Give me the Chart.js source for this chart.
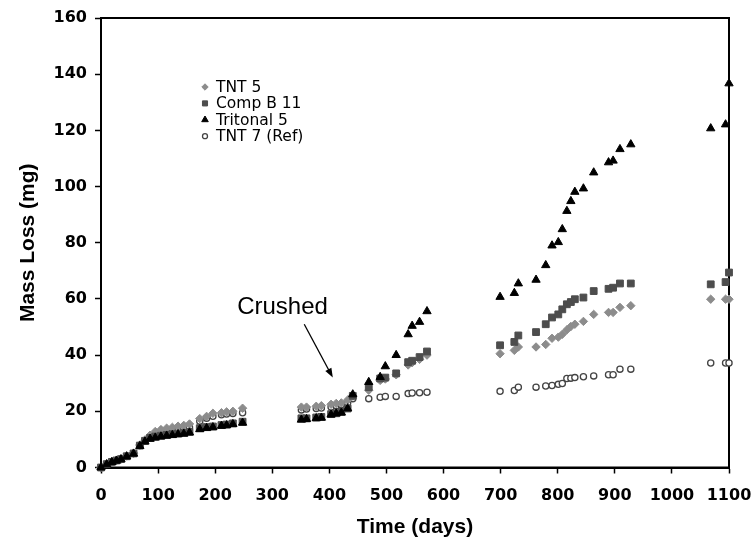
<!DOCTYPE html>
<html><head><meta charset="utf-8">
<script src="https://cdn.jsdelivr.net/npm/chart.js@4.4.1/dist/chart.umd.min.js"></script>
<style>html,body{margin:0;padding:0;background:#fff}</style>
</head><body>
<canvas id="c" width="753" height="541" style="width:753px;height:541px;display:block"></canvas>
<script>
// Measurement days (shared by all series)
const days = [
  0, 10, 19, 27, 35, 45, 57, 68, 77, 86, 95, 105, 115, 125, 135, 145, 155, 173, 185, 196, 211, 220, 231, 248,
  351, 360, 377, 386, 403, 412, 421, 432, 441,
  469, 489, 498, 517, 538, 545, 558, 571,
  699, 724, 731, 762, 779, 790, 801, 808, 816, 823, 830, 845, 863, 889, 897, 909, 928,
  1068, 1094, 1100
];
const tnt5 = [
  0, 1.3, 2.1, 2.6, 3.0, 4.1, 5.1, 8.0, 9.8, 11.5, 12.8, 13.5, 14.0, 14.3, 14.7, 15.0, 15.5, 17.4, 18.2, 19.3, 19.5, 19.8, 20.0, 21.1,
  21.5, 21.5, 21.8, 22.0, 22.5, 22.8, 23.0, 24.0, 25.5,
  27.5, 31.0, 31.5, 33.0, 36.5, 37.3, 38.5, 40.0,
  40.5, 41.7, 42.9, 42.9, 43.8, 46.0, 46.4, 47.4, 49.0, 50.2, 51.0, 52.0, 54.5, 55.2, 55.2, 57.0, 57.6,
  59.9, 59.9, 59.9
];
const compB11 = [
  0, 1.2, 2.0, 2.5, 3.0, 4.0, 5.0, 7.8, 9.5, 10.5, 11.0, 11.3, 11.6, 11.9, 12.1, 12.4, 12.7, 14.0, 14.4, 14.6, 15.1, 15.3, 15.7, 16.3,
  17.5, 17.5, 17.8, 18.0, 19.0, 19.3, 19.8, 21.0, 25.5,
  28.6, 31.7, 32.0, 33.5, 37.5, 38.0, 39.3, 41.3,
  43.5, 44.7, 47.0, 48.2, 51.0, 53.4, 54.5, 56.3, 58.1, 58.9, 59.9, 60.5, 62.8, 63.6, 64.0, 65.5, 65.5,
  65.2, 66.0, 69.4
];
const tritonal5 = [
  0, 1.1, 1.9, 2.4, 2.9, 3.9, 4.9, 7.6, 9.2, 10.2, 10.6, 11.0, 11.3, 11.5, 11.8, 12.0, 12.4, 13.6, 14.0, 14.3, 14.8, 15.0, 15.4, 15.9,
  17.0, 17.2, 17.5, 17.7, 18.8, 19.2, 19.5, 21.0, 26.0,
  30.4, 32.2, 36.0, 40.0, 47.4, 50.4, 51.8, 55.6,
  60.7, 62.1, 65.5, 66.8, 72.0, 79.0, 80.2, 84.8, 91.3, 94.8, 98.1, 99.3, 105.0, 108.6, 109.2, 113.3, 115.0,
  120.7, 122.1, 136.7
];
const tnt7Ref = [
  0, 1.2, 2.0, 2.5, 3.0, 4.0, 5.0, 7.8, 9.5, 10.8, 11.6, 12.2, 12.6, 13.0, 13.4, 13.8, 14.3, 16.5, 17.5, 18.2, 18.8, 19.0, 19.2, 19.5,
  20.5, 20.8, 21.0, 21.2, 21.5, 22.0, 22.3, 23.0, 24.5,
  24.5, 25.0, 25.3, 25.3, 26.3, 26.5, 26.6, 26.8,
  27.1, 27.4, 28.6, 28.6, 29.0, 29.2, 29.6, 29.9, 31.7, 31.8, 32.0, 32.3, 32.6, 33.0, 33.0, 35.0, 35.0,
  37.2, 37.2, 37.2
];
const seriesNames = ['TNT 5', 'Comp B 11', 'Tritonal 5', 'TNT 7 (Ref)'];
const xTickValues = [0, 100, 200, 300, 400, 500, 600, 700, 800, 900, 1000, 1100];
const yTickValues = [0, 20, 40, 60, 80, 100, 120, 140, 160];
const annotationText = 'Crushed';
const arrowFrom = {x: 356, y: 51};
const arrowTo = {x: 406, y: 32};
const textAt = {x: 318, y: 57};

function pts(arr) { return days.map((d, i) => ({x: d, y: arr[i]})).filter(p => p.y !== null); }

const styles = [
  {pointStyle: 'rectRot', radius: 4.2, bg: '#8c8c8c', border: '#8c8c8c', bw: 1},
  {pointStyle: 'rect', radius: 4.8, bg: '#4d4d4d', border: '#4d4d4d', bw: 1},
  {pointStyle: 'triangle', radius: 4.8, bg: '#000', border: '#000', bw: 1},
  {pointStyle: 'circle', radius: 3.1, bg: '#fff', border: '#444', bw: 1.3}
];
const seriesData = [tnt5, compB11, tritonal5, tnt7Ref];

const datasets = seriesData.map((arr, i) => ({
  label: seriesNames[i],
  data: pts(arr),
  pointStyle: styles[i].pointStyle,
  pointRadius: styles[i].radius,
  pointBackgroundColor: styles[i].bg,
  pointBorderColor: styles[i].border,
  pointBorderWidth: styles[i].bw,
  showLine: false,
  clip: false,
  order: [3, 2, 1, 4][i]
}));

const framePlugin = {
  id: 'frame',
  beforeDatasetsDraw(chart) {
    const a = chart.chartArea, ctx = chart.ctx;
    ctx.save();
    ctx.strokeStyle = '#000';
    ctx.lineWidth = 2;
    ctx.strokeRect(a.left, a.top, a.right - a.left, a.bottom - a.top);
    ctx.restore();
  }
};

const annotPlugin = {
  id: 'annot',
  afterDatasetsDraw(chart) {
    const ctx = chart.ctx, xs = chart.scales.x, ys = chart.scales.y;
    ctx.save();
    ctx.fillStyle = '#000';
    ctx.font = '24px "Liberation Sans", Arial, sans-serif';
    ctx.textAlign = 'center';
    ctx.textBaseline = 'middle';
    ctx.fillText(annotationText, xs.getPixelForValue(textAt.x), ys.getPixelForValue(textAt.y));
    const x1 = xs.getPixelForValue(arrowFrom.x), y1 = ys.getPixelForValue(arrowFrom.y);
    const x2 = xs.getPixelForValue(arrowTo.x), y2 = ys.getPixelForValue(arrowTo.y);
    ctx.strokeStyle = '#000';
    ctx.lineWidth = 1.3;
    const ang = Math.atan2(y2 - y1, x2 - x1);
    const hl = 10;
    ctx.beginPath();
    ctx.moveTo(x1, y1);
    ctx.lineTo(x2 - Math.cos(ang) * hl * 0.8, y2 - Math.sin(ang) * hl * 0.8);
    ctx.stroke();
    ctx.beginPath();
    ctx.moveTo(x2, y2);
    ctx.lineTo(x2 - hl * Math.cos(ang - 0.35), y2 - hl * Math.sin(ang - 0.35));
    ctx.lineTo(x2 - hl * Math.cos(ang + 0.35), y2 - hl * Math.sin(ang + 0.35));
    ctx.closePath();
    ctx.fillStyle = '#000';
    ctx.fill();

    // legend
    const lx = chart.chartArea.left + 104, ly0 = chart.chartArea.top + 69, dy = 16.4;
    ctx.font = '15.5px "DejaVu Sans", Verdana, sans-serif';
    ctx.textAlign = 'left';
    ctx.textBaseline = 'middle';
    const legR = [3.2, 3.6, 3.8, 2.5];
    seriesNames.forEach((name, i) => {
      const y = ly0 + i * dy;
      ctx.fillStyle = styles[i].bg;
      ctx.strokeStyle = styles[i].border;
      ctx.lineWidth = styles[i].bw;
      Chart.helpers.drawPoint(ctx, {pointStyle: styles[i].pointStyle, radius: legR[i], borderWidth: styles[i].bw, rotation: 0}, lx, y);
      ctx.fillStyle = '#000';
      ctx.fillText(name, lx + 11, y + 1);
    });
    ctx.restore();
  }
};

const tickFont = {family: '"DejaVu Sans", Verdana, sans-serif', weight: 'bold', size: 16};
const titleFont = {family: '"Liberation Sans", Arial, sans-serif', weight: 'bold', size: 21};

new Chart(document.getElementById('c'), {
  type: 'scatter',
  data: {datasets},
  plugins: [framePlugin, annotPlugin],
  options: {
    responsive: false,
    animation: false,
    devicePixelRatio: 1,
    layout: {padding: {left: 0, right: 24, top: 18, bottom: 0}},
    plugins: {legend: {display: false}, tooltip: {enabled: false}},
    scales: {
      x: {
        type: 'linear', min: 0, max: 1100,
        afterBuildTicks(s) { s.ticks = xTickValues.map(v => ({value: v})); },
        ticks: {autoSkip: false, maxRotation: 0, minRotation: 0, color: '#000', font: tickFont, padding: 13,
                callback: v => String(v)},
        grid: {display: true, drawOnChartArea: false, drawTicks: true, tickLength: 6, tickColor: '#000', tickWidth: 1.5},
        border: {display: true, color: '#000', width: 2},
        title: {display: true, text: 'Time (days)', color: '#000', font: titleFont, padding: {top: 0, bottom: 1}},
        afterFit(s) { s.height = 73.5; s.paddingRight = 0; s.paddingLeft = 0; }
      },
      y: {
        type: 'linear', min: 0, max: 160,
        afterBuildTicks(s) { s.ticks = yTickValues.map(v => ({value: v})); },
        ticks: {color: '#000', font: tickFont, padding: 8, callback: v => String(v)},
        grid: {display: true, drawOnChartArea: false, drawTicks: true, tickLength: 6, tickColor: '#000', tickWidth: 1.5},
        border: {display: true, color: '#000', width: 2},
        title: {display: true, text: 'Mass Loss (mg)', color: '#000', font: titleFont, padding: {top: 16, bottom: 0}},
        afterFit(s) { s.width = 101; }
      }
    }
  }
});
</script>
</body></html>
